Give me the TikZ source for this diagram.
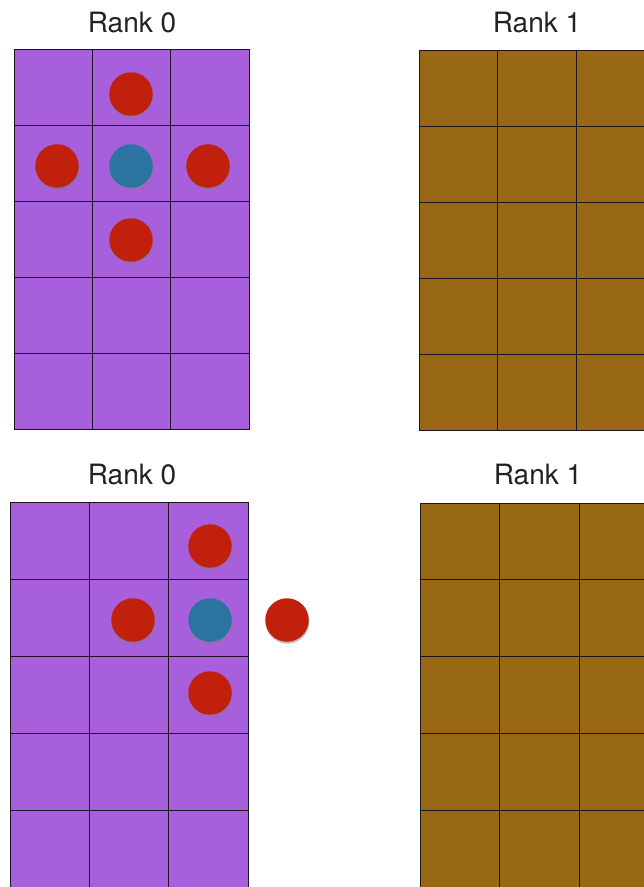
\documentclass[tikz,border=0pt]{standalone}
\usepackage{fontspec}
\setmainfont{TeX Gyre Heros}
\usepackage{xcolor}
\usepackage{tikz}
\usetikzlibrary{shadows}
\definecolor{rankPurple}{RGB}{168,95,220}
\definecolor{rankBrown}{RGB}{153,104,21}
\definecolor{ghostRed}{RGB}{192,32,12}
\definecolor{ownBlue}{RGB}{43,115,160}
\definecolor{gridLine}{RGB}{28,20,28}
\definecolor{rankText}{RGB}{34,34,34}

\begin{document}
\begin{tikzpicture}[x=1pt,y=-1pt,
    cellzero/.style={fill=rankPurple, draw=gridLine, line width=0.9pt},
    cellone/.style={fill=rankBrown, draw=gridLine, line width=0.9pt},
    dot/.style={circle, minimum size=43.5pt, inner sep=0pt,
        drop shadow={shadow xshift=0.5pt, shadow yshift=-2pt, opacity=0.5}},
    ghost/.style={dot, fill=ghostRed},
    owned/.style={dot, fill=ownBlue},
    rankLabel/.style={text=rankText, font=\fontsize{28}{30}\selectfont}]
    \clip (0,0) rectangle (644,887);

    % top: rank 0 grid
    \foreach \r in {0,...,4}
        \foreach \c in {0,1,2}
            \draw[cellzero] (14+78.33*\c,49+76*\r) rectangle ++(78.33,76);

    % top: rank 1 grid
    \foreach \r in {0,...,4}
        \foreach \c in {0,1,2}
            \draw[cellone] (419+78.6*\c,50+76*\r) rectangle ++(78.6,76);

    % bottom: rank 0 grid
    \foreach \r in {0,...,4}
        \foreach \c in {0,1,2}
            \draw[cellzero] (10+79.33*\c,502+77*\r) rectangle ++(79.33,77);

    % bottom: rank 1 grid
    \foreach \r in {0,...,4}
        \foreach \c in {0,1,2}
            \draw[cellone] (420+79.5*\c,503+76.8*\r) rectangle ++(79.5,76.8);

    % labels
    \node[rankLabel] (topzero) at (132,22.5) {Rank 0};
    \node[rankLabel] (topone) at (537,22.5) {Rank 1};
    \node[rankLabel] (botzero) at (132,474.5) {Rank 0};
    \node[rankLabel] (botone) at (538,474.5) {Rank 1};

    % top: stencil inside rank 0
    \node[ghost] (topn) at (131,94) {};
    \node[ghost] (topw) at (57,166) {};
    \node[owned] (topc) at (131,166) {};
    \node[ghost] (tope) at (208,166) {};
    \node[ghost] (tops) at (131,240) {};

    % bottom: stencil at the rank boundary
    \node[ghost] (botn) at (210,546) {};
    \node[ghost] (botw) at (133,620) {};
    \node[owned] (botc) at (210,620) {};
    \node[ghost] (bote) at (287,620) {};
    \node[ghost] (bots) at (210,693) {};
\end{tikzpicture}
\end{document}
